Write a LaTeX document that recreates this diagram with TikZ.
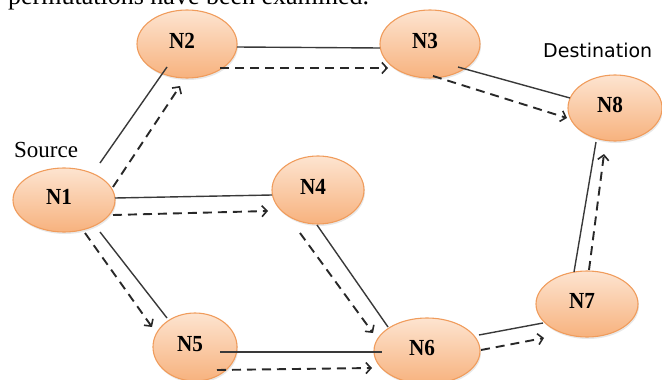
\documentclass[tikz,border=0pt]{standalone}
\usepackage{fontspec}
\setmainfont{Liberation Serif}
\newfontfamily\lblfont[FakeStretch=0.92]{Liberation Serif}
\newfontfamily\dsfont{DejaVu Sans}
\usetikzlibrary{shapes.geometric,arrows.meta,shadows}
\definecolor{ndfillA}{RGB}{253,228,208}
\definecolor{ndfillB}{RGB}{247,178,126}
\definecolor{ndline}{RGB}{240,156,92}
\definecolor{edgecol}{RGB}{40,40,40}
\begin{document}
\begin{tikzpicture}[x=1pt,y=-1pt,
  nd/.style={ellipse, draw=ndline, line width=1.1pt, top color=ndfillA, bottom color=ndfillB,
    inner sep=0pt,
    drop shadow={opacity=0.18, shadow xshift=1pt, shadow yshift=-2pt}},
  ndtext/.style={label={[inner sep=0pt, xshift=-5pt, yshift=3pt,
    font=\lblfont\bfseries\fontsize{23}{23}\selectfont]center:#1}},
  link/.style={draw=edgecol!92!white, line width=1.4pt},
  flow/.style={draw=edgecol, line width=1.9pt, dash pattern=on 9pt off 6pt,
    -{Straight Barb[length=5pt,width=11pt,line width=1.6pt]}},
  txt/.style={inner sep=0pt, anchor=base west}
]
\useasboundingbox (0,0) rectangle (662,380);
\clip (0,0) rectangle (662,380);

\node[txt, font=\fontsize{26}{26}\selectfont] (hdr) at (8,5) {permutations have been examined.};
\node[txt, font=\fontsize{23}{23}\selectfont] (src) at (14,157) {Source};
\node[txt, font=\dsfont\fontsize{19}{19}\selectfont] (dst) at (543,57) {Destination};

\node[nd, ndtext=N1, minimum width=102pt, minimum height=64pt] (n1) at (64,200) {};
\node[nd, ndtext=N2, minimum width=100pt, minimum height=68pt] (n2) at (187,44) {};
\node[nd, ndtext=N3, minimum width=100pt, minimum height=68pt] (n3) at (430,44) {};
\node[nd, ndtext=N4, minimum width=92pt, minimum height=68pt] (n4) at (318,190) {};
\node[nd, ndtext=N5, minimum width=84pt, minimum height=68pt] (n5) at (195,347) {};
\node[nd, ndtext=N6, minimum width=106pt, minimum height=66pt] (n6) at (427,351) {};
\node[nd, ndtext=N7, minimum width=102pt, minimum height=66pt] (n7) at (587,304) {};
\node[nd, ndtext=N8, minimum width=94pt, minimum height=66pt] (n8) at (615,108) {};

% N1 - N2
\draw[link] ([shift={(36,-37)}]n1.center) -- ([shift={(-20,23)}]n2.center);
\draw[flow] ([shift={(49,-13)}]n1.center) -- ([shift={(-7,42)}]n2.center);
% N2 - N3
\draw[link] ([shift={(50,3)}]n2.center) -- ([shift={(-50,4)}]n3.center);
\draw[flow] ([shift={(33,24)}]n2.center) -- ([shift={(-42,24)}]n3.center);
% N3 - N8
\draw[link] ([shift={(28,23)}]n3.center) -- ([shift={(-45,-10)}]n8.center);
\draw[flow] ([shift={(3,32)}]n3.center) -- ([shift={(-48,10)}]n8.center);
% N1 - N4
\draw[link] ([shift={(51,-2)}]n1.center) -- ([shift={(-46,5)}]n4.center);
\draw[flow] ([shift={(49,15)}]n1.center) -- ([shift={(-50,21)}]n4.center);
% N1 - N5
\draw[link] ([shift={(36,32)}]n1.center) -- ([shift={(-28,-29)}]n5.center);
\draw[flow] ([shift={(21,33)}]n1.center) -- ([shift={(-43,-20)}]n5.center);
% N4 - N6
\draw[link] ([shift={(-1,35)}]n4.center) -- ([shift={(-39,-24)}]n6.center);
\draw[flow] ([shift={(-18,43)}]n4.center) -- ([shift={(-54,-18)}]n6.center);
% N5 - N6
\draw[link] ([shift={(25,5)}]n5.center) -- ([shift={(-45,1)}]n6.center);
\draw[flow] ([shift={(22,23)}]n5.center) -- ([shift={(-55,17)}]n6.center);
% N6 - N7
\draw[link] ([shift={(52,-16)}]n6.center) -- ([shift={(-44,19)}]n7.center);
\draw[flow] ([shift={(54,-1)}]n6.center) -- ([shift={(-43,34)}]n7.center);
% N7 - N8
\draw[link] ([shift={(-13,-32)}]n7.center) -- ([shift={(-19,34)}]n8.center);
\draw[flow] ([shift={(2,-34)}]n7.center) -- ([shift={(-11,46)}]n8.center);
\end{tikzpicture}
\end{document}
